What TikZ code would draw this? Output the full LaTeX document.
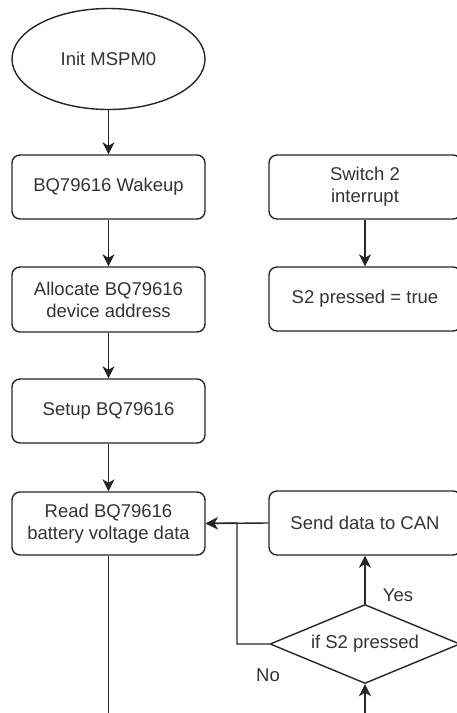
\documentclass[tikz,border=0pt]{standalone}
\usepackage{fontspec}
\setmainfont{Liberation Sans}
\usetikzlibrary{shapes.geometric,arrows.meta}
\begin{document}
\begin{tikzpicture}[x=1pt,y=-1pt,
  every node/.style={font=\fontsize{18.5}{22}\selectfont, text=black!80},
  proc/.style={draw=black!85, line width=1.4pt, rounded corners=8pt, minimum width=193pt, minimum height=64pt, align=center, inner sep=0pt},
  term/.style={draw=black!85, line width=1.4pt, ellipse, minimum width=193pt, minimum height=101pt, inner sep=0pt},
  decide/.style={draw=black!85, line width=1.4pt, diamond, shape aspect=2.4, minimum width=190pt, minimum height=79pt, inner sep=0pt},
  arr/.style={draw=black!85, line width=1.4pt, -{Stealth[length=12pt,width=12pt,inset=3.5pt]}},
  ln/.style={draw=black!85, line width=1.4pt}
]
\useasboundingbox (0,0) rectangle (457,713);
\clip (0,0) rectangle (457,713);
\node[term] (init) at (108.5,59) {Init MSPM0};
\node[proc] (wake) at (108.5,187) {BQ79616 Wakeup};
\node[proc, minimum height=65pt] (alloc) at (108.5,299.5) {Allocate BQ79616\\device address};
\node[proc] (setup) at (108.5,411) {Setup BQ79616};
\node[proc, minimum height=63pt] (read) at (108.5,523.5) {Read BQ79616\\battery voltage data};
\node[proc, minimum width=192pt] (sw) at (365,187) {Switch 2\\interrupt};
\node[proc, minimum width=192pt] (s2t) at (365,299) {S2 pressed = true};
\node[proc, minimum width=192pt] (send) at (365,523) {Send data to CAN};
\node[decide] (dec) at (365,644) {if S2 pressed};
\coordinate (j) at (237,523);
\coordinate (bl) at (108.5,720);
\coordinate (br) at (365,720);
\node (yes) at (398,595) {Yes};
\node (no) at (268,675) {No};
\draw[arr] (init) -- (wake);
\draw[arr] (wake) -- (alloc);
\draw[arr] (alloc) -- (setup);
\draw[arr] (setup) -- (read);
\draw[arr] (sw) -- (s2t);
\draw[arr] (send.west) -- (read.east);
\draw[arr] (dec.west) -| (j) -- (read.east);
\draw[arr] (dec.north) -- (send.south);
\draw[ln] (read.south) -- (bl);
\draw[arr] (br) -- (dec.south);
\end{tikzpicture}
\end{document}
